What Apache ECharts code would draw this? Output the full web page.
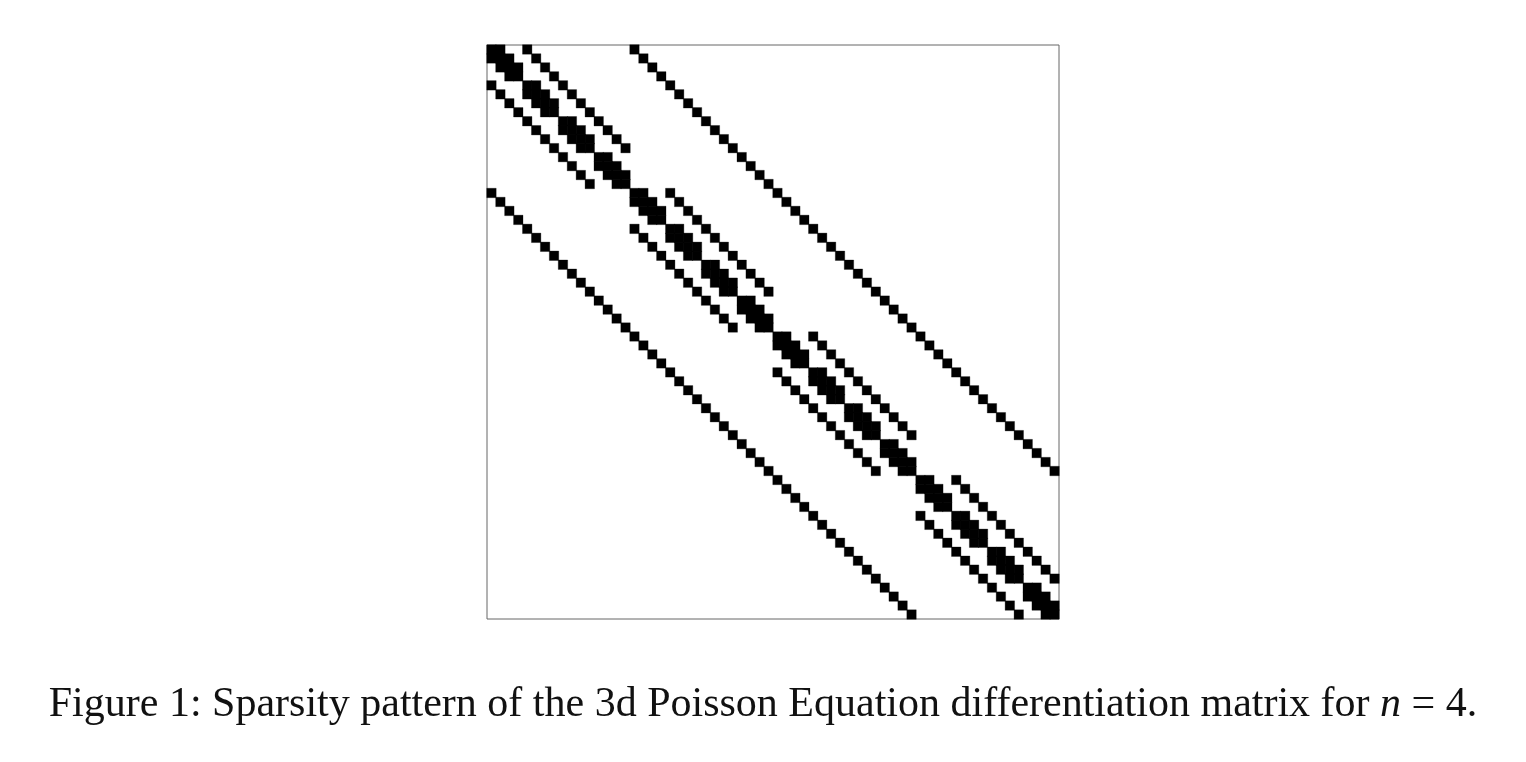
<!DOCTYPE html>
<html><head><meta charset="utf-8">
<script src="https://cdn.jsdelivr.net/npm/echarts@6/dist/echarts.min.js"></script>
<style>html,body{margin:0;padding:0;background:#fff}#c{width:1526px;height:762px}</style>
</head><body><div id="c"></div>
<script>
// Matrix size and nonzero column indices per row
const matrixSize = 64;
const rowNonzeros = [
[0,1,4,16],[0,1,2,5,17],[1,2,3,6,18],[2,3,7,19],
[0,4,5,8,20],[1,4,5,6,9,21],[2,5,6,7,10,22],[3,6,7,11,23],
[4,8,9,12,24],[5,8,9,10,13,25],[6,9,10,11,14,26],[7,10,11,15,27],
[8,12,13,28],[9,12,13,14,29],[10,13,14,15,30],[11,14,15,31],
[0,16,17,20,32],[1,16,17,18,21,33],[2,17,18,19,22,34],[3,18,19,23,35],
[4,16,20,21,24,36],[5,17,20,21,22,25,37],[6,18,21,22,23,26,38],[7,19,22,23,27,39],
[8,20,24,25,28,40],[9,21,24,25,26,29,41],[10,22,25,26,27,30,42],[11,23,26,27,31,43],
[12,24,28,29,44],[13,25,28,29,30,45],[14,26,29,30,31,46],[15,27,30,31,47],
[16,32,33,36,48],[17,32,33,34,37,49],[18,33,34,35,38,50],[19,34,35,39,51],
[20,32,36,37,40,52],[21,33,36,37,38,41,53],[22,34,37,38,39,42,54],[23,35,38,39,43,55],
[24,36,40,41,44,56],[25,37,40,41,42,45,57],[26,38,41,42,43,46,58],[27,39,42,43,47,59],
[28,40,44,45,60],[29,41,44,45,46,61],[30,42,45,46,47,62],[31,43,46,47,63],
[32,48,49,52],[33,48,49,50,53],[34,49,50,51,54],[35,50,51,55],
[36,48,52,53,56],[37,49,52,53,54,57],[38,50,53,54,55,58],[39,51,54,55,59],
[40,52,56,57,60],[41,53,56,57,58,61],[42,54,57,58,59,62],[43,55,58,59,63],
[44,56,60,61],[45,57,60,61,62],[46,58,61,62,63],[47,59,62,63]
];
const captionText = 'Figure 1: Sparsity pattern of the 3d Poisson Equation differentiation matrix for ';

const idx = [];
for (let k = 0; k < matrixSize; k++) idx.push(k);
const cells = [];
rowNonzeros.forEach((cols, r) => cols.forEach(c => cells.push([c, r, 1])));

const chart = echarts.init(document.getElementById('c'), null, {renderer: 'canvas'});
chart.setOption({
  backgroundColor: '#fff',
  animation: false,
  grid: {left: 487, top: 45, width: 572, height: 574, show: true, borderColor: '#666', borderWidth: 1, backgroundColor: 'transparent'},
  xAxis: {type: 'category', data: idx, show: false, boundaryGap: true},
  yAxis: {type: 'category', data: idx, show: false, inverse: true, boundaryGap: true},
  series: [{
    type: 'heatmap',
    data: cells,
    itemStyle: {color: '#000', borderColor: '#000', borderWidth: 0.3},
    emphasis: {disabled: true}
  }],
  graphic: [{
    type: 'text',
    left: 'center',
    top: 684,
    style: {
      text: captionText + '{i|n} = 4.',
      font: '42px "Liberation Serif", serif',
      fill: '#111',
      rich: {i: {font: 'italic 42px "Liberation Serif", serif', fill: '#111'}}
    }
  }]
});
</script></body></html>
